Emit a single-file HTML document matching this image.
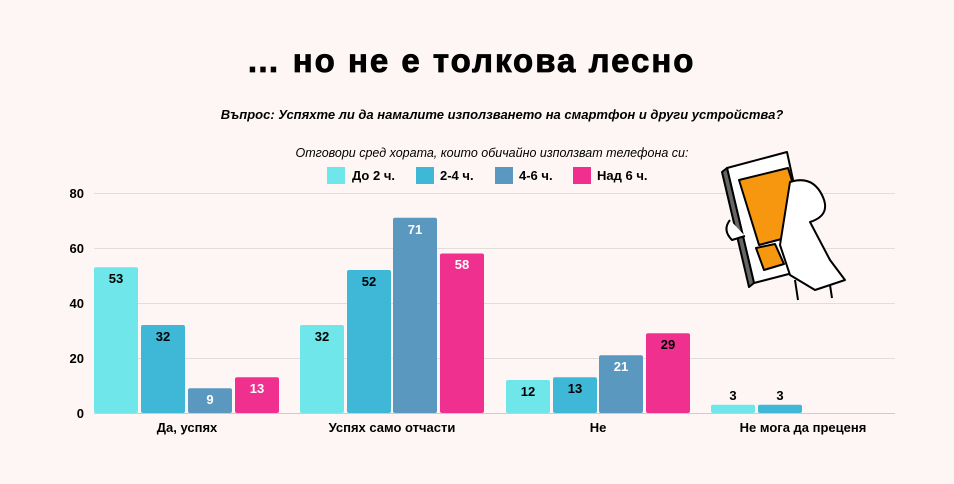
<!DOCTYPE html>
<html><head><meta charset="utf-8"><style>
html,body{margin:0;padding:0;background:#fdf6f4;}
svg{display:block;font-family:"Liberation Sans","DejaVu Sans",sans-serif;}
</style></head><body>
<svg width="954" height="484" viewBox="0 0 954 484" xmlns="http://www.w3.org/2000/svg">
<rect width="954" height="484" fill="#fdf6f4"/>
<text x="471" y="72" text-anchor="middle" font-size="33" font-weight="bold" fill="#000" letter-spacing="2" stroke="#000" stroke-width="0.8">… но не е толкова лесно</text>
<text x="502" y="119" text-anchor="middle" font-size="13" font-weight="bold" font-style="italic" fill="#000">Въпрос: Успяхте ли да намалите използването на смартфон и други устройства?</text>
<text x="492" y="157" text-anchor="middle" font-size="12.5" font-style="italic" fill="#000">Отговори сред хората, които обичайно използват телефона си:</text>
<g font-size="13" font-weight="bold" fill="#000">
<rect x="327" y="167" width="18" height="17" fill="#6ee6ea"/><text x="352" y="180">До 2 ч.</text>
<rect x="416" y="167" width="18" height="17" fill="#3fb8d8"/><text x="440" y="180">2-4 ч.</text>
<rect x="495" y="167" width="18" height="17" fill="#5b98c0"/><text x="519" y="180">4-6 ч.</text>
<rect x="573" y="167" width="18" height="17" fill="#f0308f"/><text x="597" y="180">Над 6 ч.</text>
</g>
<g stroke="#e2dcda" stroke-width="1">
<line x1="94" y1="193.5" x2="895" y2="193.5"/><line x1="94" y1="248.5" x2="895" y2="248.5"/>
<line x1="94" y1="303.5" x2="895" y2="303.5"/><line x1="94" y1="358.5" x2="895" y2="358.5"/>
</g>
<g font-size="13" font-weight="bold" fill="#000" text-anchor="end">
<text x="84" y="198">80</text><text x="84" y="253">60</text><text x="84" y="308">40</text><text x="84" y="363">20</text><text x="84" y="418">0</text>
</g>
<g font-size="13" font-weight="bold" text-anchor="middle">
<rect x="94" y="267.3" width="44" height="145.7" rx="2" fill="#6ee6ea"/><text x="116" y="283" fill="#000">53</text>
<rect x="141" y="325" width="44" height="88" rx="2" fill="#3fb8d8"/><text x="163" y="341" fill="#000">32</text>
<rect x="188" y="388.3" width="44" height="24.7" rx="2" fill="#5b98c0"/><text x="210" y="404" fill="#fff">9</text>
<rect x="235" y="377.3" width="44" height="35.7" rx="2" fill="#f0308f"/><text x="257" y="393" fill="#fff">13</text>
<rect x="300" y="325" width="44" height="88" rx="2" fill="#6ee6ea"/><text x="322" y="341" fill="#000">32</text>
<rect x="347" y="270" width="44" height="143" rx="2" fill="#3fb8d8"/><text x="369" y="286" fill="#000">52</text>
<rect x="393" y="217.8" width="44" height="195.2" rx="2" fill="#5b98c0"/><text x="415" y="234" fill="#fff">71</text>
<rect x="440" y="253.5" width="44" height="159.5" rx="2" fill="#f0308f"/><text x="462" y="269" fill="#fff">58</text>
<rect x="506" y="380" width="44" height="33" rx="2" fill="#6ee6ea"/><text x="528" y="396" fill="#000">12</text>
<rect x="553" y="377.3" width="44" height="35.7" rx="2" fill="#3fb8d8"/><text x="575" y="393" fill="#000">13</text>
<rect x="599" y="355.3" width="44" height="57.7" rx="2" fill="#5b98c0"/><text x="621" y="371" fill="#fff">21</text>
<rect x="646" y="333.3" width="44" height="79.7" rx="2" fill="#f0308f"/><text x="668" y="349" fill="#000">29</text>
<rect x="711" y="404.8" width="44" height="8.2" rx="2" fill="#6ee6ea"/><text x="733" y="400" fill="#000">3</text>
<rect x="758" y="404.8" width="44" height="8.2" rx="2" fill="#3fb8d8"/><text x="780" y="400" fill="#000">3</text>
</g>
<line x1="94" y1="413.5" x2="895" y2="413.5" stroke="#ccc" stroke-width="1"/>
<g font-size="13" font-weight="bold" fill="#000" text-anchor="middle">
<text x="187" y="432">Да, успях</text><text x="392" y="432">Успях само отчасти</text>
<text x="598" y="432">Не</text><text x="803" y="432">Не мога да преценя</text>
</g>
<g stroke="#000" stroke-width="2" fill="none" stroke-linejoin="round">
<path d="M727 168 L787 152 L812 268 L754 283 Z" fill="#fff"/>
<path d="M722 172 L727 168 L754 283 L749 287 Z" fill="#666"/>
<path d="M739 180 L788 168 L808 232 L759 245 Z" fill="#f7970f"/>
<path d="M756 248 L775 244 L784 264 L764 270 Z" fill="#f7970f"/>
<path d="M790 182 Q812 175 822 195 Q832 215 810 222 L830 260 L845 280 L815 290 L790 275 L780 245 Z" fill="#fff"/>
<path d="M730 220 Q722 230 732 240 L745 236" fill="#fff"/>
<path d="M795 280 L798 300 M830 285 L832 298"/>
</g>
</svg>
</body></html>
